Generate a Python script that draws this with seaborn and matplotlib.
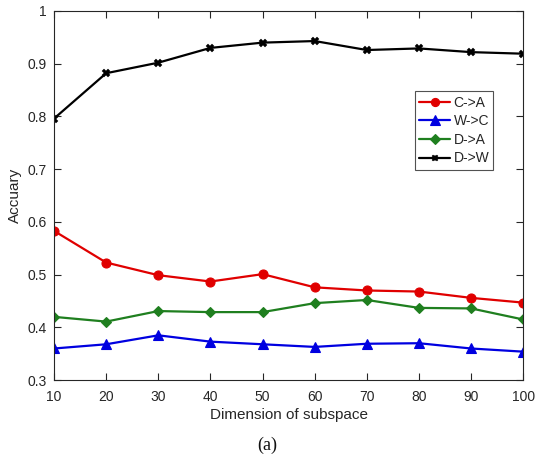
import matplotlib
matplotlib.use("Agg")
import matplotlib.pyplot as plt
import seaborn as sns
import pandas as pd

dims = [10, 20, 30, 40, 50, 60, 70, 80, 90, 100]
c_a = [0.583, 0.523, 0.499, 0.487, 0.501, 0.476, 0.470, 0.468, 0.456, 0.447]
w_c = [0.360, 0.368, 0.385, 0.373, 0.368, 0.363, 0.369, 0.370, 0.360, 0.354]
d_a = [0.420, 0.411, 0.431, 0.429, 0.429, 0.446, 0.452, 0.437, 0.436, 0.415]
d_w = [0.796, 0.882, 0.902, 0.930, 0.940, 0.943, 0.926, 0.929, 0.922, 0.919]
labels = ["C->A", "W->C", "D->A", "D->W"]
series = [c_a, w_c, d_a, d_w]
yticks = [0.3, 0.4, 0.5, 0.6, 0.7, 0.8, 0.9, 1.0]
ytick_labels = ["0.3", "0.4", "0.5", "0.6", "0.7", "0.8", "0.9", "1"]

sns.set_theme(style="ticks")
plt.rcParams['font.family'] = ['Liberation Sans', 'DejaVu Sans']

colors = ["#e00000", "#0000e0", "#1f7f1f", "#000000"]
markers = ["o", "^", "D", "X"]
msizes = [6.5, 7.5, 5.5, 5.5]

fig = plt.figure(figsize=(5.35, 4.58), dpi=100)
ax = fig.add_axes([0.101, 0.170, 0.877, 0.806])

for lab, vals, col, mk, ms in zip(labels, series, colors, markers, msizes):
    df = pd.DataFrame({"dim": dims, "acc": vals})
    sns.lineplot(data=df, x="dim", y="acc", ax=ax, color=col, marker=mk,
                 markersize=ms, markeredgecolor=col, markerfacecolor=col,
                 linewidth=1.6, label=lab, markeredgewidth=0.8 if mk != "X" else 0.3)

ax.set_xlim(10, 100)
ax.set_ylim(0.3, 1.0)
ax.set_xticks(dims)
ax.set_xticklabels([str(d) for d in dims])
ax.set_yticks(yticks)
ax.set_yticklabels(ytick_labels)
ax.tick_params(direction="in", top=True, right=True, length=5, width=0.8,
               labelsize=10, labelcolor="#262626", colors="#262626")
ax.tick_params(axis="x", pad=7)
ax.tick_params(axis="y", pad=5)
for s in ax.spines.values():
    s.set_color("#262626")
    s.set_linewidth(0.8)
ax.set_xlabel("Dimension of subspace", fontsize=11, color="#262626", labelpad=3)
ax.set_ylabel("Accuary", fontsize=11, color="#262626", labelpad=4)

leg = ax.legend(loc="upper left", bbox_to_anchor=(0.770, 0.782), fontsize=10,
                frameon=True, fancybox=False, edgecolor="#262626",
                handlelength=2.2, borderpad=0.3, labelspacing=0.33,
                handletextpad=0.25, borderaxespad=0, markerscale=0.9)
leg.get_frame().set_linewidth(0.8)
for t in leg.get_texts():
    t.set_color("#262626")

fig.text(0.5, 0.028, "(a)", ha="center", va="center", fontsize=13,
         family=["Liberation Serif", "DejaVu Serif"], color="#111111")

fig.savefig("out.png", dpi=100)
